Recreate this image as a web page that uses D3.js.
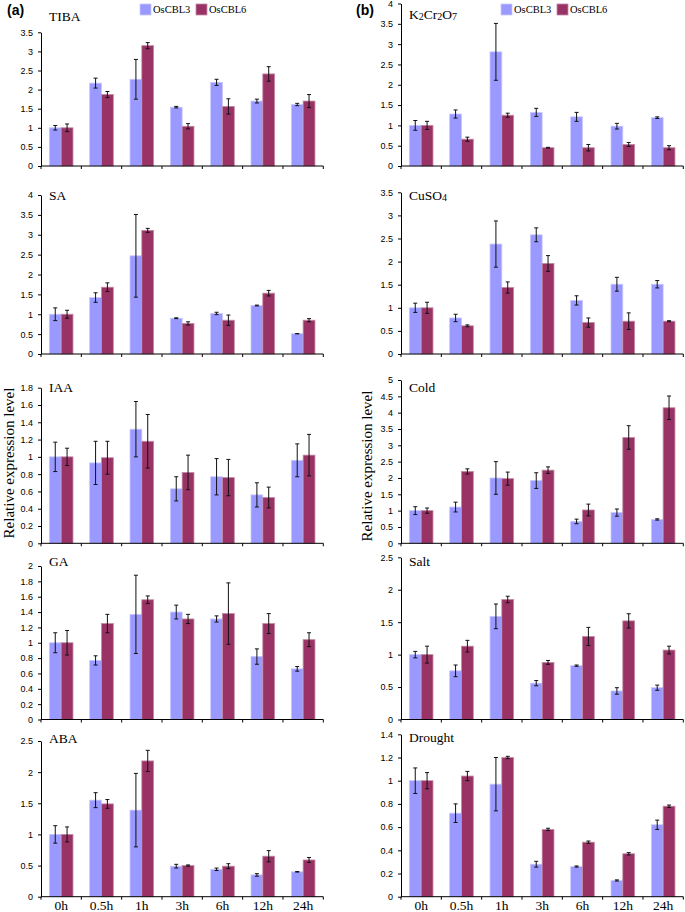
<!DOCTYPE html>
<html>
<head>
<meta charset="utf-8">
<script src="https://cdn.jsdelivr.net/npm/d3@7"></script>
<style>
  html, body { margin: 0; padding: 0; background: #fff; }
  svg { display: block; }
</style>
</head>
<body>
<script>
// ---------------- DATA ----------------
const timePoints = ["0h", "0.5h", "1h", "3h", "6h", "12h", "24h"];
const seriesNames = ["OsCBL3", "OsCBL6"];

// (a) hormone treatments
const tiba3 = [1.0, 2.17, 2.27, 1.54, 2.19, 1.70, 1.61];
const tiba3Err = [0.06, 0.13, 0.52, 0.02, 0.08, 0.05, 0.03];
const tiba6 = [1.0, 1.87, 3.15, 1.04, 1.56, 2.41, 1.70];
const tiba6Err = [0.10, 0.08, 0.08, 0.07, 0.20, 0.19, 0.17];
const tibaTicks = [0, 0.5, 1, 1.5, 2, 2.5, 3, 3.5];

const sa3 = [1.0, 1.42, 2.47, 0.90, 1.02, 1.22, 0.51];
const sa3Err = [0.16, 0.12, 1.04, 0.01, 0.03, 0.01, 0.0];
const sa6 = [1.0, 1.68, 3.11, 0.77, 0.85, 1.53, 0.85];
const sa6Err = [0.10, 0.11, 0.05, 0.04, 0.13, 0.07, 0.04];
const saTicks = [0, 0.5, 1, 1.5, 2, 2.5, 3, 3.5, 4];

const iaa3 = [1.0, 0.93, 1.32, 0.63, 0.77, 0.56, 0.96];
const iaa3Err = [0.17, 0.25, 0.32, 0.14, 0.21, 0.14, 0.19];
const iaa6 = [1.0, 0.99, 1.18, 0.82, 0.76, 0.53, 1.02];
const iaa6Err = [0.10, 0.19, 0.31, 0.20, 0.21, 0.12, 0.24];
const iaaTicks = [0, 0.2, 0.4, 0.6, 0.8, 1, 1.2, 1.4, 1.6, 1.8];

const ga3 = [1.0, 0.77, 1.37, 1.40, 1.31, 0.82, 0.66];
const ga3Err = [0.13, 0.06, 0.51, 0.09, 0.04, 0.10, 0.03];
const ga6 = [1.0, 1.25, 1.56, 1.31, 1.38, 1.25, 1.04];
const ga6Err = [0.16, 0.12, 0.05, 0.06, 0.40, 0.13, 0.09];
const gaTicks = [0, 0.2, 0.4, 0.6, 0.8, 1, 1.2, 1.4, 1.6, 1.8, 2];

const aba3 = [1.0, 1.55, 1.39, 0.49, 0.44, 0.35, 0.40];
const aba3Err = [0.14, 0.12, 0.59, 0.03, 0.02, 0.02, 0.005];
const aba6 = [1.0, 1.49, 2.18, 0.50, 0.49, 0.65, 0.59];
const aba6Err = [0.12, 0.07, 0.17, 0.01, 0.04, 0.09, 0.04];
const abaTicks = [0, 0.5, 1, 1.5, 2, 2.5];

// (b) abiotic stresses
const k2cr3 = [1.0, 1.28, 2.81, 1.32, 1.21, 0.98, 1.19];
const k2cr3Err = [0.12, 0.10, 0.70, 0.10, 0.11, 0.07, 0.02];
const k2cr6 = [1.0, 0.66, 1.25, 0.45, 0.45, 0.53, 0.45];
const k2cr6Err = [0.10, 0.05, 0.05, 0.01, 0.08, 0.05, 0.05];
const k2crTicks = [0, 0.5, 1, 1.5, 2, 2.5, 3, 3.5, 4];

const cuso3 = [1.0, 0.78, 2.38, 2.58, 1.16, 1.51, 1.51];
const cuso3Err = [0.10, 0.08, 0.50, 0.15, 0.10, 0.15, 0.08];
const cuso6 = [1.0, 0.61, 1.44, 1.96, 0.68, 0.71, 0.71];
const cuso6Err = [0.12, 0.02, 0.12, 0.17, 0.10, 0.18, 0.01];
const cusoTicks = [0, 0.5, 1, 1.5, 2, 2.5, 3, 3.5];

const cold3 = [1.0, 1.11, 2.0, 1.92, 0.67, 0.94, 0.73];
const cold3Err = [0.12, 0.15, 0.50, 0.24, 0.07, 0.11, 0.02];
const cold6 = [1.0, 2.2, 1.98, 2.24, 1.02, 3.24, 4.15];
const cold6Err = [0.08, 0.08, 0.20, 0.10, 0.18, 0.36, 0.36];
const coldTicks = [0, 0.5, 1, 1.5, 2, 2.5, 3, 3.5, 4, 4.5, 5];

const salt3 = [1.0, 0.75, 1.59, 0.56, 0.83, 0.44, 0.49];
const salt3Err = [0.05, 0.09, 0.19, 0.04, 0.01, 0.05, 0.04];
const salt6 = [1.0, 1.13, 1.85, 0.88, 1.28, 1.52, 1.07];
const salt6Err = [0.13, 0.09, 0.05, 0.03, 0.14, 0.11, 0.06];
const saltTicks = [0, 0.5, 1, 1.5, 2, 2.5];

const drought3 = [1.0, 0.72, 0.97, 0.28, 0.26, 0.14, 0.62];
const drought3Err = [0.11, 0.08, 0.23, 0.025, 0.005, 0.005, 0.04];
const drought6 = [1.0, 1.04, 1.20, 0.58, 0.47, 0.37, 0.78];
const drought6Err = [0.07, 0.04, 0.01, 0.01, 0.01, 0.01, 0.01];
const droughtTicks = [0, 0.2, 0.4, 0.6, 0.8, 1, 1.2, 1.4];

// ---------------- LAYOUT ----------------
const W = 685, H = 912;
const colors = { OsCBL3: "#9999FF", OsCBL6: "#993366" };
const edges = { OsCBL3: "#c9c9ff", OsCBL6: "#c48aa6" };
const serif = "'Liberation Serif', 'Times New Roman', serif";
const sans = "'Liberation Sans', Arial, sans-serif";

const cols = [{ x0: 41, x1: 323.3, tx: 49 }, { x0: 401, x1: 683.3, tx: 409 }];
const rows = [
  { y0: 166, tops: [32.3, 3.5], ty: [20.5, 19] },
  { y0: 354, tops: [195, 192.3], ty: [200, 200] },
  { y0: 543.3, tops: [387.7, 380], ty: [392, 392] },
  { y0: 719.5, tops: [566, 557.3], ty: [566, 566] },
  { y0: 896.7, tops: [741, 734.3], ty: [743, 742] }
];

const panels = [
  { col: 0, row: 0, title: [["TIBA", false]], v3: tiba3, e3: tiba3Err, v6: tiba6, e6: tiba6Err, ticks: tibaTicks },
  { col: 0, row: 1, title: [["SA", false]], v3: sa3, e3: sa3Err, v6: sa6, e6: sa6Err, ticks: saTicks },
  { col: 0, row: 2, title: [["IAA", false]], v3: iaa3, e3: iaa3Err, v6: iaa6, e6: iaa6Err, ticks: iaaTicks },
  { col: 0, row: 3, title: [["GA", false]], v3: ga3, e3: ga3Err, v6: ga6, e6: ga6Err, ticks: gaTicks },
  { col: 0, row: 4, title: [["ABA", false]], v3: aba3, e3: aba3Err, v6: aba6, e6: aba6Err, ticks: abaTicks },
  { col: 1, row: 0, title: [["K", false], ["2", true], ["Cr", false], ["2", true], ["O", false], ["7", true]], v3: k2cr3, e3: k2cr3Err, v6: k2cr6, e6: k2cr6Err, ticks: k2crTicks },
  { col: 1, row: 1, title: [["CuSO", false], ["4", true]], v3: cuso3, e3: cuso3Err, v6: cuso6, e6: cuso6Err, ticks: cusoTicks },
  { col: 1, row: 2, title: [["Cold", false]], v3: cold3, e3: cold3Err, v6: cold6, e6: cold6Err, ticks: coldTicks },
  { col: 1, row: 3, title: [["Salt", false]], v3: salt3, e3: salt3Err, v6: salt6, e6: salt6Err, ticks: saltTicks },
  { col: 1, row: 4, title: [["Drought", false]], v3: drought3, e3: drought3Err, v6: drought6, e6: drought6Err, ticks: droughtTicks }
];

const svg = d3.select("body").append("svg").attr("width", W).attr("height", H);
svg.append("rect").attr("width", W).attr("height", H).attr("fill", "#fff");

const fmt = d3.format("~g");

panels.forEach(p => {
  const c = cols[p.col], r = rows[p.row];
  const yTop = r.tops[p.col];
  const maxV = p.ticks[p.ticks.length - 1];
  const x = d3.scaleBand().domain(timePoints).range([c.x0, c.x1]);
  const bw = x.bandwidth();
  const xs = d3.scaleBand().domain(seriesNames).range([bw * 0.207, bw * 0.793]);
  const y = d3.scaleLinear().domain([0, maxV]).range([r.y0, yTop]);
  const g = svg.append("g");

  // bars
  const recs = [];
  timePoints.forEach((t, i) => {
    recs.push({ t, s: "OsCBL3", v: p.v3[i], e: p.e3[i] });
    recs.push({ t, s: "OsCBL6", v: p.v6[i], e: p.e6[i] });
  });
  g.selectAll("rect.bar").data(recs).join("rect")
    .attr("class", "bar")
    .attr("x", d => x(d.t) + xs(d.s))
    .attr("y", d => y(d.v))
    .attr("width", xs.bandwidth())
    .attr("height", d => y(0) - y(d.v))
    .attr("fill", d => colors[d.s])
    .attr("stroke", d => edges[d.s])
    .attr("stroke-width", 0.8);

  // error bars
  const eg = g.selectAll("g.err").data(recs).join("g").attr("class", "err")
    .attr("stroke", "#111").attr("stroke-width", 1);
  const cx = d => x(d.t) + xs(d.s) + xs.bandwidth() / 2;
  eg.append("line").attr("x1", cx).attr("x2", cx)
    .attr("y1", d => y(d.v + d.e)).attr("y2", d => y(d.v - d.e));
  eg.append("line").attr("x1", d => cx(d) - 2).attr("x2", d => cx(d) + 2)
    .attr("y1", d => y(d.v + d.e)).attr("y2", d => y(d.v + d.e));
  eg.append("line").attr("x1", d => cx(d) - 2).attr("x2", d => cx(d) + 2)
    .attr("y1", d => y(d.v - d.e)).attr("y2", d => y(d.v - d.e));

  // y axis
  const ya = g.append("g").attr("transform", `translate(${c.x0},0)`)
    .call(d3.axisLeft(y).tickValues(p.ticks).tickSize(3).tickSizeOuter(0).tickPadding(5).tickFormat(fmt));
  ya.select(".domain").attr("stroke", "#000");
  ya.selectAll(".tick line").attr("stroke", "#000");
  ya.selectAll(".tick text").attr("font-family", sans).attr("font-size", 9).attr("fill", "#000");

  // x axis line with boundary ticks
  const bounds = timePoints.map(t => x(t)).concat([c.x1]);
  g.append("line").attr("x1", c.x0).attr("x2", c.x1).attr("y1", r.y0).attr("y2", r.y0)
    .attr("stroke", "#000").attr("stroke-width", 1);
  g.selectAll("line.xt").data(bounds).join("line").attr("class", "xt")
    .attr("x1", d => d).attr("x2", d => d).attr("y1", r.y0).attr("y2", r.y0 + 3)
    .attr("stroke", "#000");

  // x labels on bottom row
  if (p.row === 4) {
    const xa = g.append("g").attr("transform", `translate(0,${r.y0})`)
      .call(d3.axisBottom(x).tickSize(0).tickPadding(0));
    xa.select(".domain").remove();
    xa.selectAll(".tick text").attr("font-family", serif).attr("font-size", 13.5)
      .attr("fill", "#000").attr("dy", 0).attr("y", H - r.y0 - 1.5);
  }

  // panel title
  const tt = g.append("text").attr("x", c.tx).attr("y", r.ty[p.col])
    .attr("font-family", serif).attr("font-size", 13.5).attr("fill", "#000");
  let down = false;
  p.title.forEach(([s, sub]) => {
    const ts = tt.append("tspan").text(s);
    if (sub) {
      ts.attr("font-size", 10).attr("dy", down ? 0 : 1);
      down = true;
    } else {
      ts.attr("dy", down ? -1 : 0);
      down = false;
    }
  });
});

// panel letters
[["(a)", 7], ["(b)", 356]].forEach(([s, xx]) => {
  svg.append("text").attr("x", xx).attr("y", 15).text(s)
    .attr("font-family", sans).attr("font-weight", "bold").attr("font-size", 14).attr("fill", "#000");
});

// legends
[{ x: 140 }, { x: 501 }].forEach(L => {
  seriesNames.forEach((s, i) => {
    const lx = L.x + i * 56;
    svg.append("rect").attr("x", lx).attr("y", 4).attr("width", 11).attr("height", 11)
      .attr("fill", colors[s]).attr("stroke", edges[s]).attr("stroke-width", 0.8);
    svg.append("text").attr("x", lx + 13).attr("y", 13).text(s)
      .attr("font-family", serif).attr("font-size", 10.5).attr("fill", "#000");
  });
});

// y axis titles
[{ x: 13.5, y: 463 }, { x: 372, y: 466 }].forEach(a => {
  svg.append("text").attr("transform", `translate(${a.x},${a.y}) rotate(-90)`)
    .attr("text-anchor", "middle").text("Relative expression level")
    .attr("font-family", serif).attr("font-size", 15).attr("fill", "#000");
});
</script>
</body>
</html>
